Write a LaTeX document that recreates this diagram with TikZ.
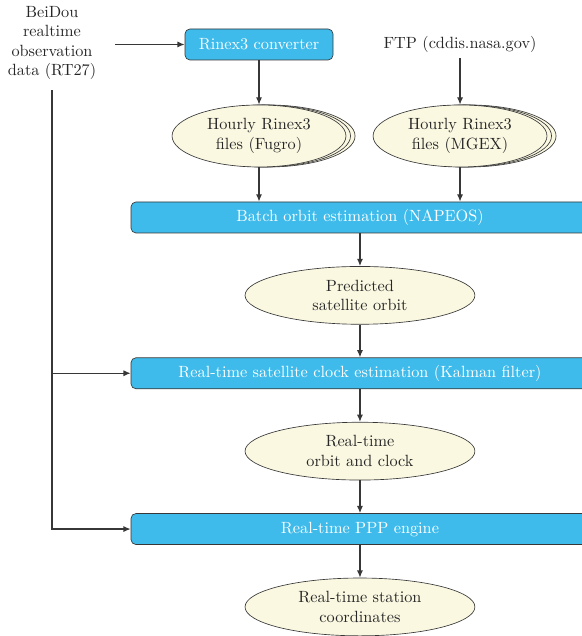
\documentclass[tikz,border=0pt]{standalone}
\usepackage{xcolor}
\usepackage{tikz}
\usetikzlibrary{arrows.meta,positioning,shapes.geometric,shadows,calc}
\definecolor{procblue}{RGB}{62,187,235}
\definecolor{datayellow}{RGB}{250,248,225}
\definecolor{edgegray}{RGB}{55,55,55}
\tikzset{
    procbox/.style={
        draw=edgegray,
        rounded corners=3pt,
        align=center,
        minimum height=6.7mm,
        minimum width=32mm,
        fill=procblue,
        text=white
    },
    widebox/.style={
        procbox,
        minimum width=99mm
    },
    datanode/.style={
        draw=edgegray,
        ellipse,
        align=center,
        inner sep=1pt,
        minimum height=12.5mm,
        minimum width=49.7mm,
        fill=datayellow,
        text=black!85
    },
    filenode/.style={
        datanode,
        minimum height=13.4mm,
        minimum width=37.6mm,
        double copy shadow={shadow xshift=2.8pt, shadow yshift=0pt,
            fill=datayellow, draw=edgegray}
    },
    source/.style={align=center, text=black!85},
    flow/.style={-{Latex[length=4.5pt,width=3.8pt]}, line width=0.8pt, draw=edgegray}
}

\begin{document}
\begin{tikzpicture}[node distance=7.1mm]
        \useasboundingbox (0,0) rectangle (12.562,-13.751);

        \node[source] (beidou) at (1.124,-0.930) {BeiDou\\realtime\\observation\\data (RT27)};
        \node[procbox] (conv) at (5.600,-0.962) {Rinex3 converter};
        \node[source] (ftp) at (9.946,-0.951) {FTP (cddis.nasa.gov)};
        \node[filenode] (fugro) at (5.600,-2.940) {Hourly Rinex3\\files (Fugro)};
        \node[filenode] (mgex) at (9.946,-2.940) {Hourly Rinex3\\files (MGEX)};
        \node[widebox] (batch) at (7.783,-4.702) {Batch orbit estimation (NAPEOS)};
        \node[datanode, below=of batch] (pred) {Predicted\\satellite orbit};
        \node[widebox, below=of pred] (clock) {Real-time satellite clock estimation (Kalman filter)};
        \node[datanode, below=of clock] (orbclk) {Real-time\\orbit and clock};
        \node[widebox, below=of orbclk] (ppp) {Real-time PPP engine};
        \node[datanode, below=of ppp] (coords) {Real-time station\\coordinates};

        \draw[flow, shorten <=8pt] (beidou.east |- conv.west) -- (conv.west);
        \draw[flow] (conv) -- (fugro);
        \draw[flow] (ftp) -- (mgex);
        \draw[flow] (fugro) -- (fugro |- batch.north);
        \draw[flow] (mgex) -- (mgex |- batch.north);
        \draw[flow] (batch) -- (pred);
        \draw[flow] (pred) -- (clock);
        \draw[flow] (clock) -- (orbclk);
        \draw[flow] (orbclk) -- (ppp);
        \draw[flow] (ppp) -- (coords);

        % observations feed the clock and PPP steps
        \draw[flow, shorten <=3pt] (beidou.south) |- (ppp.west);
        \draw[flow] (beidou.south |- clock.west) -- (clock.west);
    \end{tikzpicture}
\end{document}
